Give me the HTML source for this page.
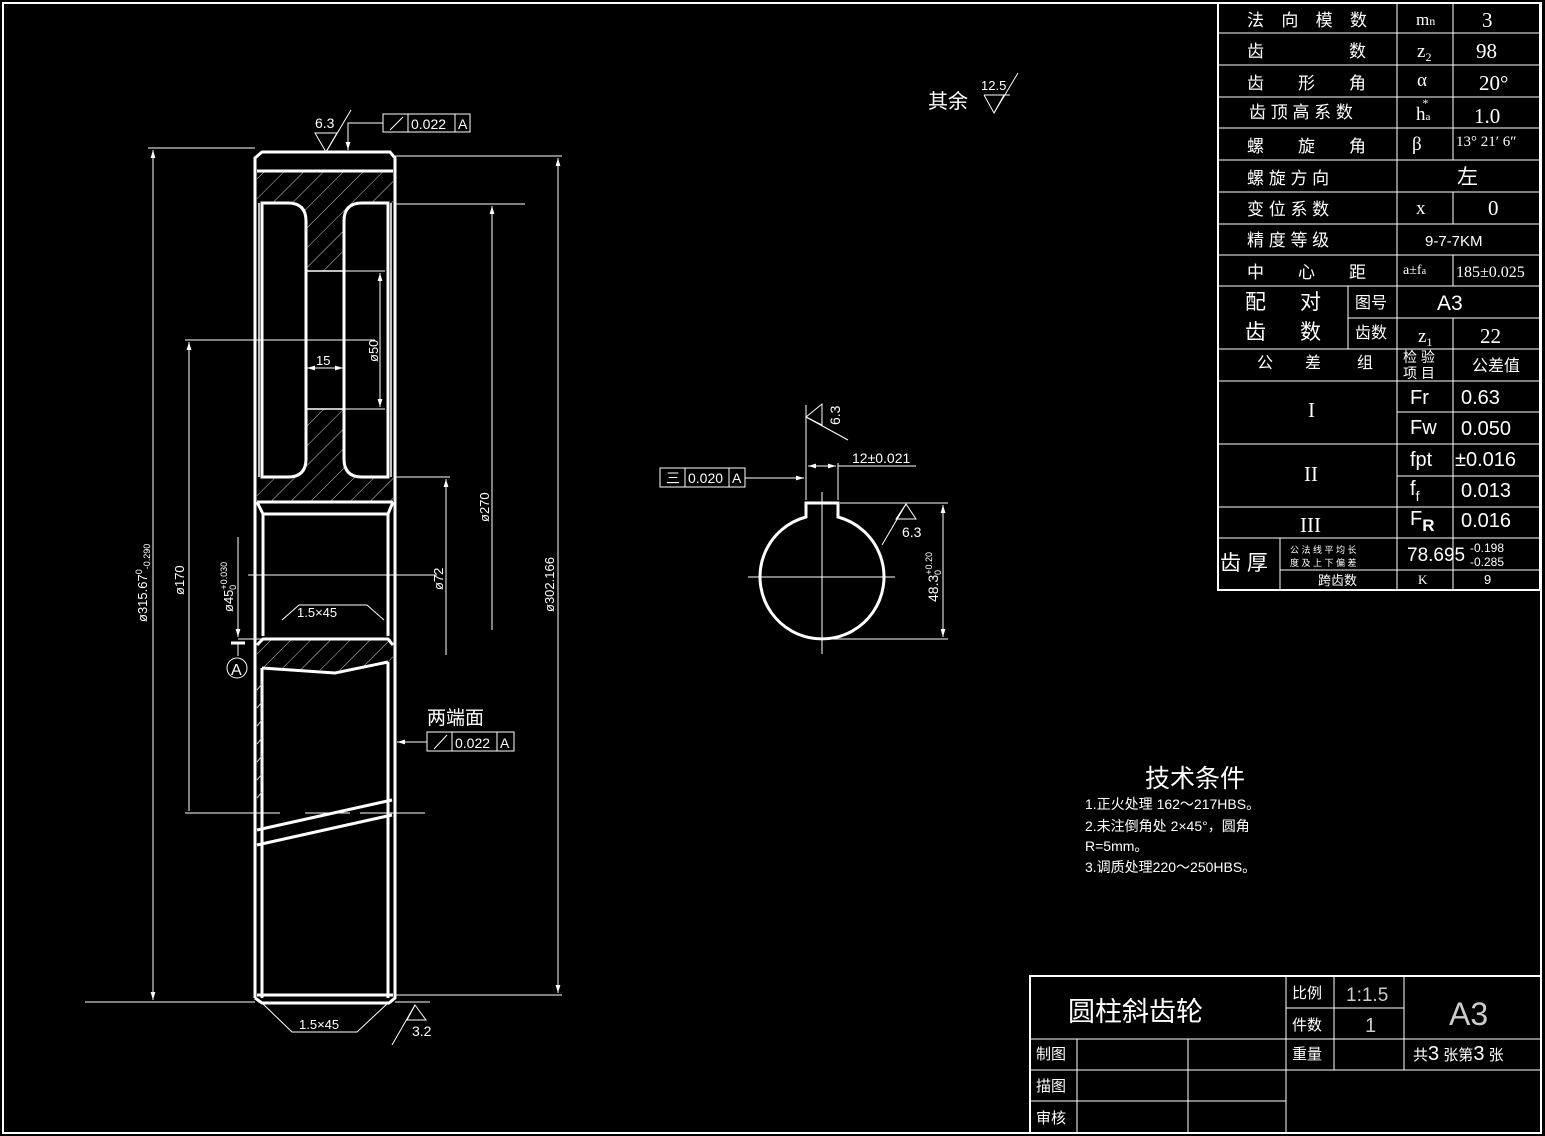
<!DOCTYPE html>
<html><head><meta charset="utf-8"><style>
html,body{margin:0;padding:0;background:#000;}
svg{display:block;}
text{fill:#fff;font-family:"Liberation Sans","Noto Sans CJK SC",sans-serif;}
text.sf{font-family:"Liberation Serif","Noto Sans CJK SC",serif;}
</style></head><body>
<svg width="1545" height="1136" viewBox="0 0 1545 1136" xmlns="http://www.w3.org/2000/svg">
<defs>
<pattern id="h" width="14" height="14" patternUnits="userSpaceOnUse" patternTransform="rotate(45)">
<line x1="0" y1="0" x2="0" y2="14" stroke="#ccc" stroke-width="1"/>
</pattern>
<marker id="ar" viewBox="0 0 10 10" refX="10" refY="5" markerWidth="8" markerHeight="8" orient="auto-start-reverse"><path d="M0,2 L10,5 L0,8z" fill="#fff"/></marker>
</defs>
<rect x="0" y="0" width="1545" height="1136" fill="#000"/>
<rect x="3" y="3" width="1538" height="1130" fill="none" stroke="#fff" stroke-width="2"/>

<rect x="257" y="171" width="136" height="331" fill="url(#h)"/>
<rect x="257" y="639" width="136" height="31" fill="url(#h)"/>
<path d="M257,203 H288 Q306,203 306,221 V459 Q306,477 288,477 H257Z" fill="#000"/>
<path d="M393,203 H362 Q344,203 344,221 V459 Q344,477 362,477 H393Z" fill="#000"/>
<rect x="306" y="271" width="38" height="138" fill="#000"/>
<path d="M257,670 L262,668 L335,673 L393,662 V680 H257Z" fill="#000"/>

<g stroke="#fff" fill="none" stroke-width="3">
<path d="M255,998 V158 L262,152 H390 L395,158 V998 L389,1003 H262 L255,998"/>
<line x1="257" y1="171" x2="393" y2="171"/>
<path d="M262,203 H288 Q306,203 306,221 V459 Q306,477 288,477 H262 Z"/>
<path d="M388,203 H362 Q344,203 344,221 V459 Q344,477 362,477 H388 Z"/>
<line x1="257" y1="502" x2="393" y2="502"/>
<path d="M257,502 L263,514 H388 L393,502"/>
<line x1="263" y1="514" x2="263" y2="636"/>
<line x1="388" y1="514" x2="388" y2="636"/>
<path d="M257,645 L263,639 H388 L393,645"/>
<path d="M262,668 L335,673 L388,662"/>
<line x1="262" y1="668" x2="262" y2="998"/>
<line x1="388" y1="662" x2="388" y2="998"/>
<line x1="257" y1="995" x2="393" y2="995"/>
<line x1="257" y1="830" x2="392" y2="800"/>
<line x1="257" y1="845" x2="392" y2="815"/>
</g>
<g stroke="#fff" stroke-width="1.5" fill="none">
<line x1="306" y1="271" x2="344" y2="271"/>
<line x1="306" y1="409" x2="344" y2="409"/>
<line x1="259" y1="203" x2="259" y2="477"/>
<line x1="391" y1="203" x2="391" y2="477"/>
</g>
<g stroke="#ccc" stroke-width="1">
<path d="M257,690 L262,684 M257,708 L262,702 M257,726 L262,720 M257,744 L262,738 M257,762 L262,756 M257,780 L262,774 M257,798 L262,792"/>
</g>

<g stroke="#fff" stroke-width="1" fill="none">
<line x1="148" y1="148" x2="255" y2="148"/>
<line x1="85" y1="1002" x2="255" y2="1002"/>
<line x1="153" y1="150" x2="153" y2="1000" marker-start="url(#ar)" marker-end="url(#ar)"/>
<line x1="395" y1="156" x2="562" y2="156"/>
<line x1="395" y1="995" x2="562" y2="995"/>
<line x1="558" y1="158" x2="558" y2="993" marker-start="url(#ar)" marker-end="url(#ar)"/>
<line x1="395" y1="204" x2="525" y2="204"/>
<line x1="492" y1="206" x2="492" y2="630" marker-start="url(#ar)"/>
<line x1="395" y1="477" x2="450" y2="477"/>
<line x1="446" y1="479" x2="446" y2="655" marker-start="url(#ar)"/>
<line x1="344" y1="271" x2="385" y2="271"/>
<line x1="344" y1="409" x2="385" y2="409"/>
<line x1="380" y1="273" x2="380" y2="407" marker-start="url(#ar)" marker-end="url(#ar)"/>
<line x1="307" y1="368" x2="343" y2="368" marker-start="url(#ar)" marker-end="url(#ar)"/>
<line x1="185" y1="340" x2="375" y2="340"/>
<line x1="189" y1="342" x2="189" y2="811" marker-start="url(#ar)"/>
<line x1="185" y1="813" x2="280" y2="813"/>
<line x1="305" y1="813" x2="350" y2="813"/>
<line x1="360" y1="813" x2="425" y2="813"/>
<line x1="248" y1="575" x2="437" y2="575"/>
<line x1="238" y1="537" x2="238" y2="637" marker-end="url(#ar)"/>
<line x1="238" y1="639" x2="262" y2="639"/>
<path d="M282,620 L299,605 L367,605 L384,620"/>
<path d="M262,1003 L292,1032 L357,1032 L388,1003"/>
<line x1="395" y1="1002" x2="430" y2="1002"/>
</g>
<line x1="231" y1="643" x2="245" y2="643" stroke="#fff" stroke-width="3"/>
<line x1="238" y1="643" x2="238" y2="656" stroke="#fff" stroke-width="1"/>
<circle cx="237" cy="668" r="10" stroke="#fff" fill="none" stroke-width="1"/>
<text x="231" y="675" font-size="16">A</text>

<g font-size="13">
<text transform="translate(147,622) rotate(-90)">ø315.67<tspan font-size="9" dy="-5">0</tspan><tspan font-size="9" dy="8">-0.290</tspan></text>
<text transform="translate(184,595) rotate(-90)">ø170</text>
<text transform="translate(233,612) rotate(-90)">ø45<tspan font-size="9" dy="-6">+0.030</tspan><tspan font-size="9" dx="-28" dy="9">0</tspan></text>
<text transform="translate(378,362) rotate(-90)">ø50</text>
<text x="316" y="365">15</text>
<text transform="translate(489,522) rotate(-90)">ø270</text>
<text transform="translate(443,590) rotate(-90)">ø72</text>
<text transform="translate(554,612) rotate(-90)">ø302.166</text>
<text x="297" y="617">1.5×45</text>
<text x="299" y="1029">1.5×45</text>
</g>

<g stroke="#fff" stroke-width="1" fill="none">
<path d="M315,133 L326,152 L337,133 Z"/>
<line x1="326" y1="152" x2="351" y2="110"/>
<path d="M383,123 H348 V150" marker-end="url(#ar)"/>
<rect x="383" y="114" width="87" height="18"/>
<line x1="408" y1="114" x2="408" y2="132"/><line x1="455" y1="114" x2="455" y2="132"/>
<line x1="390" y1="130" x2="403" y2="117"/>
<rect x="427" y="732" width="87" height="19"/>
<line x1="452" y1="732" x2="452" y2="751"/><line x1="497" y1="732" x2="497" y2="751"/>
<line x1="434" y1="749" x2="447" y2="735"/>
<line x1="427" y1="742" x2="397" y2="742" marker-end="url(#ar)"/>
<path d="M407,1020 L415,1005 L426,1020 Z"/>
<line x1="415" y1="1005" x2="392" y2="1045"/>
<path d="M984,95 L994,113 L1004,95"/>
<line x1="984" y1="95" x2="1010" y2="95"/>
<line x1="994" y1="113" x2="1018" y2="73"/>
</g>
<text x="315" y="128" font-size="14">6.3</text>
<text x="411" y="129" font-size="14">0.022</text><text x="458" y="129" font-size="14">A</text>
<text x="427" y="724" font-size="19">两端面</text>
<text x="455" y="748" font-size="14">0.022</text><text x="500" y="748" font-size="14">A</text>
<text x="412" y="1036" font-size="14">3.2</text>
<text x="928" y="108" font-size="20">其余</text>
<text x="981" y="90" font-size="13">12.5</text>

<g stroke="#fff" fill="none">
<path d="M806,503 H838 V517 A62,62 0 1 1 806,517 Z" stroke-width="3"/>
<line x1="748" y1="577" x2="895" y2="577" stroke-width="1"/>
<line x1="822" y1="492" x2="822" y2="654" stroke-width="1"/>
<line x1="806" y1="500" x2="806" y2="405" stroke-width="1"/>
<line x1="838" y1="500" x2="838" y2="463" stroke-width="1"/>
<line x1="808" y1="466" x2="836" y2="466" stroke-width="1" marker-start="url(#ar)" marker-end="url(#ar)"/>
<line x1="838" y1="466" x2="916" y2="466" stroke-width="1"/>
<path d="M806,417 L822,404 L822,425 Z" stroke-width="1"/>
<line x1="806" y1="417" x2="848" y2="440" stroke-width="1"/>
<rect x="660" y="468" width="85" height="19" stroke-width="1"/>
<line x1="685" y1="468" x2="685" y2="487" stroke-width="1"/><line x1="729" y1="468" x2="729" y2="487" stroke-width="1"/>
<line x1="745" y1="478" x2="804" y2="478" stroke-width="1" marker-end="url(#ar)"/>
<line x1="840" y1="503" x2="948" y2="503" stroke-width="1"/>
<line x1="822" y1="639" x2="948" y2="639" stroke-width="1"/>
<line x1="943" y1="505" x2="943" y2="637" stroke-width="1" marker-start="url(#ar)" marker-end="url(#ar)"/>
<path d="M896,519 L906,504 L916,519 Z" stroke-width="1"/>
<line x1="906" y1="504" x2="882" y2="545" stroke-width="1"/>
</g>
<text x="666" y="483" font-size="14">三</text>
<text x="688" y="483" font-size="14">0.020</text><text x="732" y="483" font-size="14">A</text>
<text x="852" y="463" font-size="14">12±0.021</text>
<text transform="translate(840,425) rotate(-90)" font-size="14">6.3</text>
<text x="902" y="537" font-size="14">6.3</text>
<text transform="translate(938,602) rotate(-90)" font-size="14">48.3<tspan font-size="9" dy="-6">+0.20</tspan><tspan font-size="9" dx="-23" dy="9">0</tspan></text>

<g stroke="#fff" fill="none" stroke-width="1">
<rect x="1218" y="3" width="322" height="587" stroke-width="2"/>
<line x1="1397" y1="3" x2="1397" y2="590"/>
<line x1="1453" y1="3" x2="1453" y2="160"/>
<line x1="1453" y1="192" x2="1453" y2="224"/>
<line x1="1453" y1="255" x2="1453" y2="286"/>
<line x1="1453" y1="318" x2="1453" y2="590"/>
<line x1="1348" y1="286" x2="1348" y2="349"/>
<line x1="1280" y1="538" x2="1280" y2="590"/>
<path d="M1218,33H1540M1218,65H1540M1218,97H1540M1218,128H1540M1218,160H1540M1218,192H1540M1218,224H1540M1218,255H1540M1218,286H1540M1348,318H1540M1218,349H1540M1218,381H1540M1397,412H1540M1218,444H1540M1397,476H1540M1218,507H1540M1218,538H1540M1280,570H1540"/>
</g>
<g font-size="17">
<text x="1247" y="26" textLength="120" lengthAdjust="spacing">法向模数</text>
<text x="1247" y="57">齿</text><text x="1349" y="57">数</text>
<text x="1247" y="89">齿</text><text x="1298" y="89">形</text><text x="1349" y="89">角</text>
<text x="1249" y="118">齿 顶 高 系 数</text>
<text x="1247" y="152">螺</text><text x="1298" y="152">旋</text><text x="1349" y="152">角</text>
<text x="1247" y="184">螺 旋 方 向</text>
<text x="1247" y="215">变 位 系 数</text>
<text x="1247" y="246">精 度 等 级</text>
<text x="1247" y="278">中</text><text x="1298" y="278">心</text><text x="1349" y="278">距</text>
<text x="1245" y="309" font-size="21">配</text><text x="1300" y="309" font-size="21">对</text>
<text x="1245" y="339" font-size="21">齿</text><text x="1300" y="339" font-size="21">数</text>
<text x="1355" y="308" font-size="16">图号</text>
<text x="1355" y="338" font-size="16">齿数</text>
<text x="1257" y="368" font-size="16">公</text><text x="1305" y="368" font-size="16">差</text><text x="1357" y="368" font-size="16">组</text>
<text x="1403" y="362" font-size="14">检 验</text><text x="1403" y="378" font-size="14">项 目</text>
<text x="1472" y="371" font-size="16">公差值</text>
<text x="1220" y="570" font-size="21">齿 厚</text>
<text x="1290" y="553" font-size="9">公 法 线 平 均 长</text>
<text x="1290" y="566" font-size="9">度 及 上 下 偏 差</text>
<text x="1318" y="585" font-size="13">跨齿数</text>
</g>
<g font-size="19">
<text class="sf" x="1416" y="25" font-size="17">m<tspan font-size="12">n</tspan></text>
<text class="sf" x="1482" y="27" font-size="21">3</text>
<text class="sf" x="1417" y="57">z<tspan font-size="12" dy="4">2</tspan></text>
<text class="sf" x="1476" y="58" font-size="21">98</text>
<text class="sf" x="1417" y="86">α</text>
<text class="sf" x="1479" y="90" font-size="21">20°</text>
<text class="sf" x="1416" y="120">h<tspan font-size="11">a</tspan><tspan font-size="12" dx="-8" dy="-13">*</tspan></text>
<text class="sf" x="1474" y="123" font-size="21">1.0</text>
<text class="sf" x="1412" y="150">β</text>
<text class="sf" x="1456" y="146" font-size="15">13° 21′ 6″</text>
<text x="1457" y="184" font-size="21">左</text>
<text class="sf" x="1416" y="214">x</text>
<text class="sf" x="1488" y="215" font-size="21">0</text>
<text x="1425" y="246" font-size="15">9-7-7KM</text>
<text class="sf" x="1403" y="274" font-size="14">a±f<tspan font-size="10">a</tspan></text>
<text class="sf" x="1456" y="277" font-size="16">185±0.025</text>
<text x="1437" y="310" font-size="21">A3</text>
<text class="sf" x="1418" y="342">z<tspan font-size="12" dy="4">1</tspan></text>
<text class="sf" x="1480" y="343" font-size="21">22</text>
<text class="sf" x="1308" y="417" font-size="21">I</text>
<text class="sf" x="1304" y="481" font-size="21">II</text>
<text class="sf" x="1300" y="532" font-size="21">III</text>
<text x="1410" y="404" font-size="20">Fr</text>
<text x="1461" y="404" font-size="20">0.63</text>
<text x="1410" y="434" font-size="20">Fw</text>
<text x="1461" y="435" font-size="20">0.050</text>
<text x="1410" y="466" font-size="20">fpt</text>
<text x="1455" y="466" font-size="20">±0.016</text>
<text x="1410" y="495" font-size="20">f<tspan font-size="14" dy="6">f</tspan></text>
<text x="1461" y="497" font-size="20">0.013</text>
<text x="1410" y="525" font-size="20">F<tspan font-size="17" font-weight="bold" dy="6">R</tspan></text>
<text x="1461" y="527" font-size="20">0.016</text>
<text x="1407" y="561" font-size="19">78.695</text>
<text x="1470" y="552" font-size="12">-0.198</text>
<text x="1470" y="566" font-size="12">-0.285</text>
<text class="sf" x="1418" y="584" font-size="13">K</text>
<text x="1484" y="584" font-size="13">9</text>
</g>

<text x="1145" y="787" font-size="25">技术条件</text>
<g font-size="14">
<text x="1085" y="809">1.正火处理 162～217HBS。</text>
<text x="1085" y="831">2.未注倒角处 2×45°，圆角</text>
<text x="1085" y="851">R=5mm。</text>
<text x="1085" y="872">3.调质处理220～250HBS。</text>
</g>

<g stroke="#fff" fill="none" stroke-width="1">
<rect x="1030" y="976" width="511" height="157" stroke-width="2"/>
<line x1="1286" y1="976" x2="1286" y2="1133"/>
<line x1="1334" y1="976" x2="1334" y2="1070"/>
<line x1="1404" y1="976" x2="1404" y2="1070"/>
<line x1="1077" y1="1039" x2="1077" y2="1133"/>
<line x1="1188" y1="1039" x2="1188" y2="1133"/>
<line x1="1286" y1="1008" x2="1404" y2="1008"/>
<line x1="1030" y1="1039" x2="1541" y2="1039"/>
<line x1="1030" y1="1070" x2="1541" y2="1070"/>
<line x1="1030" y1="1101" x2="1286" y2="1101"/>
</g>
<text x="1068" y="1021" font-size="27">圆柱斜齿轮</text>
<text x="1292" y="998" font-size="15">比例</text>
<text x="1346" y="1001" font-size="19" style="fill:#ccc">1:1.5</text>
<text x="1292" y="1030" font-size="15">件数</text>
<text x="1365" y="1032" font-size="20" style="fill:#ccc">1</text>
<text x="1449" y="1025" font-size="32" style="fill:#ccc">A3</text>
<text x="1036" y="1059" font-size="15">制图</text>
<text x="1036" y="1091" font-size="15">描图</text>
<text x="1036" y="1123" font-size="15">审核</text>
<text x="1292" y="1059" font-size="15">重量</text>
<text x="1413" y="1060" font-size="15">共<tspan font-size="20">3</tspan> 张第<tspan font-size="20">3</tspan> 张</text>
</svg>
</body></html>
